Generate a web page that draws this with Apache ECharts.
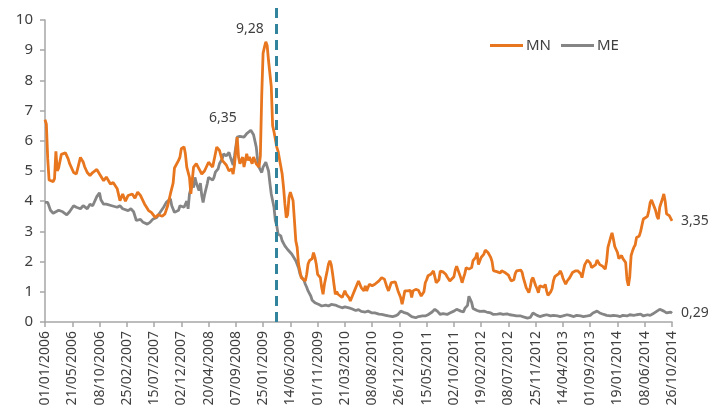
<!DOCTYPE html>
<html>
<head>
<meta charset="utf-8">
<script src="https://cdn.jsdelivr.net/npm/echarts@6/dist/echarts.min.js"></script>
<style>html,body{margin:0;padding:0;background:#fff}#c{width:712px;height:413px}</style>
</head>
<body>
<div id="c"></div>
<script>
// Week index (0 = 01/01/2006) and value
const tickLabels = ['01/01/2006','21/05/2006','08/10/2006','25/02/2007','15/07/2007','02/12/2007','20/04/2008','07/09/2008','25/01/2009','14/06/2009','01/11/2009','21/03/2010','08/08/2010','26/12/2010','15/05/2011','02/10/2011','19/02/2012','08/07/2012','25/11/2012','14/04/2013','01/09/2013','19/01/2014','08/06/2014','26/10/2014'];
const seriesNames = ['MN', 'ME'];
const mnData = [[0,6.7],[1,6.55],[2,5.4],[3,4.7],[4,4.7],[6,4.65],[7,4.75],[8,5.65],[9,5.0],[10,5.1],[12,5.55],[15,5.6],[17,5.4],[18,5.25],[21,4.95],[23,4.9],[26,5.45],[28,5.3],[29,5.15],[31,4.95],[33,4.85],[35,4.95],[38,5.05],[40,4.9],[43,4.68],[45,4.8],[48,4.57],[50,4.62],[53,4.41],[55,4.02],[57,4.24],[59,4.0],[61,4.19],[64,4.24],[66,4.1],[68,4.3],[70,4.19],[73,3.91],[76,3.69],[78,3.63],[81,3.46],[83,3.55],[86,3.5],[88,3.58],[90,3.85],[92,4.24],[94,4.6],[95,5.1],[98,5.35],[99,5.46],[100,5.74],[102,5.8],[103,5.57],[104,5.13],[106,4.79],[107,4.24],[108,4.68],[109,5.13],[111,5.24],[113,5.07],[115,4.9],[117,5.0],[120,5.29],[121,5.35],[123,5.13],[125,5.57],[126,5.79],[128,5.68],[130,5.35],[131,5.4],[133,5.2],[135,5.0],[137,5.07],[138,4.9],[139,5.2],[141,6.12],[142,5.46],[143,5.24],[145,5.46],[146,5.13],[148,5.57],[149,5.35],[150,5.46],[152,5.24],[153,5.46],[155,5.24],[157,5.13],[158,5.5],[159,7.5],[160,8.9],[161,9.1],[162,9.28],[163,9.15],[164,8.65],[165,8.6],[166,7.8],[167,6.5],[168,6.3],[169,6.3],[170,5.8],[171,5.65],[172,5.4],[173,5.35],[174,4.9],[175,4.46],[176,3.91],[177,3.46],[178,3.55],[179,4.13],[180,4.3],[181,4.3],[182,4.02],[183,3.36],[184,2.69],[185,2.47],[186,1.92],[187,1.7],[188,1.47],[189,1.47],[191,1.36],[192,1.58],[193,1.92],[194,2.03],[196,2.1],[197,2.3],[198,2.14],[199,1.92],[200,1.58],[202,1.47],[203,1.14],[204,0.92],[205,1.25],[207,1.69],[208,1.92],[209,2.03],[210,1.9],[211,1.6],[212,1.25],[213,0.92],[214,1.0],[215,0.92],[216,0.95],[218,0.81],[219,0.86],[220,1.03],[221,0.92],[223,0.81],[224,0.7],[225,0.75],[226,0.92],[227,1.03],[229,1.25],[230,1.36],[231,1.3],[232,1.14],[234,1.03],[235,1.2],[236,1.03],[237,1.14],[238,1.25],[240,1.2],[241,1.14],[242,1.25],[245,1.36],[246,1.4],[247,1.47],[249,1.42],[251,1.14],[252,1.03],[254,1.3],[257,1.33],[259,1.03],[261,0.8],[262,0.59],[263,0.8],[264,1.03],[266,1.03],[267,0.97],[268,1.05],[269,0.81],[270,1.03],[272,1.08],[273,1.14],[274,1.05],[275,1.1],[276,0.86],[278,1.0],[279,1.3],[280,1.4],[281,1.53],[283,1.58],[284,1.64],[285,1.69],[286,1.5],[287,1.3],[289,1.4],[290,1.69],[291,1.64],[292,1.66],[294,1.58],[295,1.5],[296,1.47],[297,1.36],[298,1.36],[300,1.5],[301,1.72],[302,1.85],[303,1.8],[305,1.47],[306,1.3],[307,1.45],[308,1.6],[309,1.8],[311,1.75],[312,1.8],[313,1.8],[314,2.03],[316,2.14],[317,2.3],[318,1.9],[319,1.95],[320,2.14],[322,2.25],[323,2.38],[324,2.4],[325,2.3],[327,2.14],[328,2.0],[329,1.7],[330,1.64],[332,1.66],[334,1.62],[335,1.7],[338,1.62],[339,1.58],[340,1.55],[341,1.45],[342,1.36],[344,1.4],[345,1.6],[346,1.69],[347,1.65],[349,1.72],[350,1.65],[351,1.45],[352,1.3],[353,1.14],[355,0.97],[356,1.15],[357,1.4],[358,1.47],[360,1.2],[361,1.1],[362,0.97],[363,1.2],[364,1.25],[366,1.15],[367,1.25],[368,1.03],[369,0.88],[371,1.0],[372,1.1],[373,1.36],[374,1.5],[375,1.53],[377,1.6],[378,1.69],[379,1.6],[380,1.45],[382,1.25],[383,1.35],[384,1.4],[385,1.47],[387,1.64],[388,1.6],[389,1.69],[390,1.65],[391,1.69],[393,1.6],[394,1.47],[395,1.7],[396,1.9],[398,2.05],[399,2.08],[400,1.95],[401,1.8],[402,1.75],[404,1.9],[405,2.05],[406,2.0],[407,1.9],[409,1.85],[410,1.8],[411,1.75],[412,2.0],[413,2.47],[415,2.8],[416,2.95],[417,2.75],[418,2.5],[420,2.3],[421,2.1],[422,2.14],[423,2.2],[424,2.1],[426,1.97],[427,1.4],[428,1.2],[429,1.5],[430,2.2],[431,2.35],[432,2.47],[433,2.55],[434,2.8],[436,2.85],[437,3.0],[438,3.21],[439,3.41],[440,3.45],[442,3.5],[443,3.69],[444,3.96],[445,4.04],[446,4.0],[448,3.69],[449,3.5],[450,3.41],[451,3.8],[453,4.08],[454,4.24],[455,4.0],[456,3.58],[458,3.52],[459,3.55],[460,3.35]];
const meData = [[0,3.96],[2,3.96],[4,3.7],[6,3.6],[7,3.65],[10,3.7],[11,3.72],[13,3.65],[16,3.55],[17,3.5],[18,3.65],[21,3.85],[23,3.8],[26,3.75],[28,3.85],[31,3.75],[33,3.9],[35,3.85],[38,4.15],[40,4.28],[41,4.05],[43,3.9],[45,3.9],[46,3.96],[49,3.85],[53,3.8],[55,3.85],[57,3.75],[61,3.69],[63,3.75],[65,3.65],[67,3.36],[70,3.4],[72,3.3],[75,3.24],[77,3.3],[79,3.4],[82,3.46],[84,3.6],[87,3.8],[89,3.96],[92,4.08],[93,3.85],[95,3.63],[98,3.7],[99,3.85],[102,3.8],[104,4.0],[105,3.75],[106,4.24],[108,4.57],[109,4.45],[110,4.79],[111,4.6],[113,4.35],[114,4.6],[115,4.19],[116,3.96],[117,4.2],[119,4.57],[120,4.79],[121,4.79],[123,4.7],[124,4.79],[125,4.96],[127,5.07],[128,5.24],[130,5.4],[131,5.57],[133,5.5],[135,5.62],[136,5.46],[137,5.4],[138,5.2],[139,5.5],[141,6.12],[143,6.15],[146,6.12],[148,6.24],[149,6.2],[151,6.35],[152,6.3],[153,6.2],[155,5.79],[156,5.35],[157,5.13],[159,4.95],[160,5.13],[162,5.29],[163,5.25],[164,5.0],[165,4.6],[166,4.24],[168,3.8],[169,3.36],[170,3.2],[171,2.91],[173,2.85],[174,2.69],[176,2.52],[178,2.4],[181,2.25],[184,2.03],[186,1.8],[187,1.6],[188,1.5],[190,1.38],[191,1.25],[192,1.15],[193,1.03],[195,0.86],[196,0.72],[197,0.66],[198,0.64],[201,0.58],[203,0.53],[206,0.56],[208,0.53],[210,0.58],[213,0.56],[215,0.52],[218,0.47],[220,0.5],[223,0.47],[225,0.44],[228,0.38],[230,0.41],[232,0.35],[235,0.33],[237,0.36],[240,0.3],[242,0.3],[245,0.26],[247,0.25],[250,0.22],[252,0.2],[255,0.18],[257,0.2],[259,0.25],[261,0.36],[262,0.38],[263,0.32],[264,0.3],[266,0.28],[267,0.22],[269,0.18],[272,0.14],[274,0.18],[277,0.2],[279,0.2],[281,0.24],[284,0.33],[286,0.42],[288,0.35],[290,0.25],[292,0.28],[295,0.25],[297,0.3],[300,0.36],[302,0.42],[305,0.36],[307,0.33],[308,0.45],[310,0.55],[311,0.85],[313,0.65],[314,0.45],[317,0.38],[319,0.35],[322,0.36],[324,0.33],[327,0.3],[329,0.25],[332,0.26],[334,0.28],[336,0.25],[339,0.27],[341,0.24],[344,0.22],[346,0.2],[349,0.2],[351,0.17],[354,0.13],[355,0.12],[356,0.15],[358,0.3],[361,0.22],[363,0.18],[366,0.22],[368,0.24],[371,0.2],[373,0.22],[376,0.2],[378,0.18],[380,0.2],[383,0.24],[385,0.22],[388,0.18],[390,0.22],[393,0.2],[395,0.18],[398,0.2],[400,0.22],[402,0.3],[405,0.36],[407,0.3],[410,0.25],[412,0.22],[415,0.2],[417,0.22],[420,0.2],[422,0.18],[424,0.22],[427,0.2],[429,0.24],[432,0.22],[434,0.24],[437,0.26],[439,0.2],[442,0.24],[444,0.22],[446,0.27],[449,0.36],[451,0.42],[454,0.36],[456,0.3],[459,0.33],[460,0.29]];
const mnPeakWeek = 162;
const mePeakWeek = 151;
const eventWeek = 170;

const fmt = v => v.toFixed(2).replace('.', ',');
const textColor = '#404040';
const font = 'Noto Sans';

function peakMark(data, peakWeek, offset) {
  const p = data.find(d => d[0] === peakWeek);
  return {
    silent: true, symbol: 'circle', symbolSize: 0,
    label: { show: true, position: 'top', distance: 5, offset: offset, color: textColor,
             fontSize: 14, fontFamily: font, formatter: q => fmt(q.value) },
    data: [{ coord: p, value: p[1] }]
  };
}

const hiddenAxis = { show: false, axisLine: { show: false }, axisTick: { show: false }, axisLabel: { show: false }, splitLine: { show: false } };

const chart = echarts.init(document.getElementById('c'), null, { renderer: 'canvas' });
chart.setOption({
  animation: false,
  backgroundColor: '#fff',
  grid: [
    { left: 45, right: 40, top: 20, bottom: 91, containLabel: false },
    { left: 45, right: 40, top: 8, bottom: 91, containLabel: false }
  ],
  legend: {
    data: seriesNames, left: 490, top: 38, padding: 0, icon: 'rect', itemWidth: 33, itemHeight: 3, itemGap: 10,
    textStyle: { color: textColor, fontSize: 15, fontFamily: font, padding: [0, 0, 0, -2] }
  },
  xAxis: [{
    type: 'value', min: 0, max: 460, interval: 20, gridIndex: 0,
    axisLine: { show: true, lineStyle: { color: '#A6A6A6', width: 1.5 } },
    axisTick: { show: true, length: 5, lineStyle: { color: '#A6A6A6', width: 1.5 } },
    splitLine: { show: false },
    axisLabel: { rotate: 90, margin: 9, color: textColor, fontSize: 14, fontFamily: font,
                 formatter: v => tickLabels[Math.round(v / 20)] }
  }, Object.assign({ type: 'value', min: 0, max: 460, gridIndex: 1 }, hiddenAxis)],
  yAxis: [{
    type: 'value', min: 0, max: 10, interval: 1, gridIndex: 0,
    axisLine: { show: true, lineStyle: { color: '#A6A6A6', width: 1.5 } },
    axisTick: { show: true, length: 5, lineStyle: { color: '#A6A6A6', width: 1.5 } },
    splitLine: { show: false },
    axisLabel: { margin: 12, color: textColor, fontSize: 15, fontFamily: font }
  }, Object.assign({ type: 'value', min: 0, max: 1, gridIndex: 1 }, hiddenAxis)],
  series: [
    {
      name: 'MN', type: 'line', symbol: 'none',
      data: mnData,
      lineStyle: { color: '#E8761E', width: 2.8 }, itemStyle: { color: '#E8761E' },
      endLabel: { show: true, formatter: p => fmt(p.value[1]), color: textColor, fontSize: 14, fontFamily: font, distance: 9 },
      markPoint: peakMark(mnData, mnPeakWeek, [-16, -1]),
      z: 3
    },
    {
      name: 'ME', type: 'line', symbol: 'none',
      data: meData,
      lineStyle: { color: '#858585', width: 2.8 }, itemStyle: { color: '#858585' },
      endLabel: { show: true, formatter: p => fmt(p.value[1]), color: textColor, fontSize: 14, fontFamily: font, distance: 9 },
      markPoint: peakMark(meData, mePeakWeek, [-28, 0]),
      z: 2
    },
    {
      name: 'event', type: 'line', xAxisIndex: 1, yAxisIndex: 1, symbol: 'none', data: [],
      markLine: {
        silent: true, symbol: 'none', label: { show: false },
        lineStyle: { color: '#31849B', width: 3, type: [10, 6] },
        data: [{ xAxis: eventWeek }]
      },
      z: 1
    }
  ]
});
</script>
</body>
</html>
